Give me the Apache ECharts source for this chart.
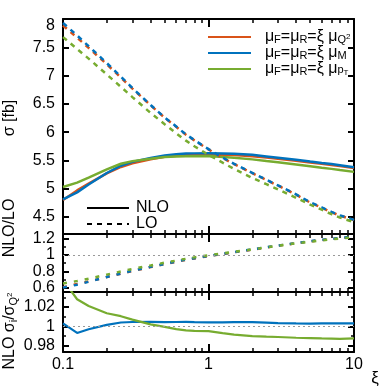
<!DOCTYPE html>
<html><head><meta charset="utf-8">
<script src="https://cdn.jsdelivr.net/npm/echarts@6/dist/echarts.min.js"></script>
<style>html,body{margin:0;padding:0;background:#fff}#c{width:390px;height:390px}</style>
</head><body><div id="c"></div>
<script>
// ---- data ----
const xi = [0.1,0.125,0.15,0.2,0.25,0.3,0.4,0.5,0.6,0.7,0.8,1,1.25,1.5,2,2.5,3,4,5,6,7,8,10];
// NLO cross sections [fb]
const nloQ2 = [4.80,4.97,5.09,5.27,5.385,5.45,5.52,5.565,5.585,5.595,5.60,5.605,5.60,5.595,5.575,5.55,5.53,5.495,5.465,5.44,5.42,5.40,5.365];
const nloM  = [4.814,4.936,5.075,5.278,5.407,5.475,5.545,5.589,5.610,5.621,5.625,5.629,5.624,5.619,5.599,5.571,5.548,5.511,5.480,5.456,5.436,5.416,5.381];
const nloPT = [5.030,5.109,5.197,5.341,5.442,5.488,5.531,5.562,5.569,5.572,5.574,5.577,5.561,5.547,5.519,5.491,5.469,5.430,5.398,5.372,5.351,5.330,5.298];
// LO cross sections [fb]
const loQ2 = [7.885,7.67,7.49,7.20,6.965,6.77,6.475,6.255,6.095,5.955,5.855,5.695,5.545,5.435,5.275,5.155,5.055,4.895,4.755,4.665,4.585,4.525,4.445];
const loM  = [7.93,7.71,7.52,7.22,6.98,6.78,6.48,6.26,6.10,5.96,5.86,5.70,5.55,5.44,5.28,5.16,5.06,4.90,4.76,4.67,4.59,4.53,4.45];
const loPT = [7.68,7.47,7.30,7.02,6.80,6.62,6.34,6.14,5.98,5.85,5.75,5.60,5.46,5.35,5.19,5.08,4.99,4.84,4.72,4.63,4.55,4.49,4.41];
// NLO/LO
const kQ2 = [0.609,0.648,0.680,0.732,0.773,0.805,0.852,0.889,0.916,0.940,0.957,0.985,1.010,1.031,1.063,1.090,1.110,1.140,1.163,1.178,1.191,1.201,1.216];
const kM  = [0.605,0.640,0.675,0.733,0.775,0.808,0.855,0.891,0.919,0.943,0.960,0.988,1.013,1.034,1.066,1.093,1.113,1.143,1.166,1.181,1.194,1.204,1.219];
const kPT = [0.655,0.684,0.712,0.762,0.800,0.830,0.872,0.906,0.931,0.953,0.970,0.996,1.018,1.037,1.066,1.090,1.110,1.140,1.160,1.175,1.188,1.198,1.212];
// NLO sigma_i / sigma_Q2
const relM  = [1.003,0.9932,0.997,1.0015,1.004,1.0045,1.0046,1.0043,1.0045,1.0047,1.0044,1.0042,1.0042,1.0043,1.0043,1.0038,1.0033,1.003,1.0028,1.003,1.003,1.003,1.003];
const relPT = [1.048,1.028,1.021,1.0135,1.0105,1.007,1.002,0.9995,0.9972,0.9958,0.9953,0.995,0.993,0.9915,0.990,0.9893,0.989,0.9882,0.9878,0.9875,0.9873,0.987,0.9875];
// ticks
const xMajor = [0.1, 1, 10];
const xMinor = [0.2,0.3,0.4,0.5,0.6,0.7,0.8,0.9,2,3,4,5,6,7,8,9];
const yTopMajor = [4.5,5,5.5,6,6.5,7,7.5,8];
const yMidMajor = [0.6,0.8,1,1.2];
const yMidMinor = [0.7,0.9,1.1];
const yBotMajor = [0.98,1,1.02];
const yBotMinor = [0.99,1.01,1.03];
const seriesNames = ['Q2','M','pT'];

// ---- style ----
const F = 'Liberation Sans';
const colors = {Q2:'#D95319', M:'#0072BD', pT:'#77AC30'};
const pair = a => a.map((v,i)=>[xi[i], v]);
const fmt = v => String(+(+v).toFixed(4));

const grids = [
  {left:63, right:36, top:19, height:215},
  {left:63, right:36, top:234, height:58},
  {left:63, right:36, top:292, height:60}
];
const yRanges = [[4.2,8],[0.552,1.252],[0.9735,1.0355]];
const yMaj = [yTopMajor, yMidMajor, yBotMajor];
const yMin = [[], yMidMinor, yBotMinor];

const xAxes = [], yAxes = [];
function xAx(g, pos, ticks, len, w, line, labels){
  return {type:'log', logBase:10, min:0.1, max:10, gridIndex:g, position:pos,
    axisLine:{show:line, lineStyle:{color:'#000', width:2}},
    axisTick:{show:true, inside:true, length:len, lineStyle:{color:'#000', width:w}, customValues:ticks},
    axisLabel: labels ? {show:true, customValues:labels, margin:5, color:'#000', fontSize:16, fontFamily:F, formatter:v=>fmt(v)} : {show:false},
    splitLine:{show:false}, minorTick:{show:false}};
}
function yAx(g, pos, ticks, len, w, line, labels){
  const r = yRanges[g];
  return {type:'value', min:r[0], max:r[1], gridIndex:g, position:pos,
    axisLine:{show:line, lineStyle:{color:'#000', width:2}},
    axisTick:{show:ticks.length>0, inside:true, length:len, lineStyle:{color:'#000', width:w}, customValues:ticks.length?ticks:undefined},
    axisLabel: labels ? {show:true, customValues:labels, margin:8, color:'#000', fontSize:16, fontFamily:F,
      formatter:v=> (g===0 && +v===8) ? '{d|8}' : fmt(v),
      rich:{d:{fontSize:16, fontFamily:F, color:'#000', padding:[13,0,0,0]}}} : {show:false},
    splitLine:{show:false}, minorTick:{show:false}};
}
for (let g=0; g<3; g++){
  xAxes.push(xAx(g,'bottom',xMajor,8,2,true, g===2?xMajor:null)); // index 4g
  xAxes.push(xAx(g,'bottom',xMinor,4,1.5,false,null));
  xAxes.push(xAx(g,'top',xMajor,8,2,true,null));
  xAxes.push(xAx(g,'top',xMinor,4,1.5,false,null));
  yAxes.push(yAx(g,'left',yMaj[g],6,2,true,yMaj[g])); // index 4g
  yAxes.push(yAx(g,'left',yMin[g],3,1.5,false,null));
  yAxes.push(yAx(g,'right',yMaj[g],6,2,true,null));
  yAxes.push(yAx(g,'right',yMin[g],3,1.5,false,null));
}

const series = [];
function line(name, g, data, dash, width){
  series.push({name, type:'line', xAxisIndex:4*g, yAxisIndex:4*g, data:pair(data),
    symbol:'none', showSymbol:false, smooth:false, clip:true, color:colors[name],
    lineStyle:{width:width||2.5, color:colors[name], type: dash || 'solid'}});
}
const refLine = {silent:true, symbol:['none','none'], label:{show:false},
  lineStyle:{color:'#999', type:[2,3], width:1}, data:[{yAxis:1}]};
// top panel
line('Q2',0,nloQ2); line('M',0,nloM); line('pT',0,nloPT);
line('Q2',0,loQ2,[5,5]); line('M',0,loM,[5,5]); line('pT',0,loPT,[5,5]);
// middle panel
line('Q2',1,kQ2,[4,7]); line('M',1,kM,[4,7]); line('pT',1,kPT,[4,7]);
series[series.length-3].markLine = refLine;
// bottom panel
line('M',2,relM,null,2.2); line('pT',2,relPT,null,2.2);
series[series.length-2].markLine = refLine;
// dummy series for NLO / LO style legend
series.push({name:'NLO', type:'line', xAxisIndex:0, yAxisIndex:0, data:[], symbol:'none', color:'#000', lineStyle:{color:'#000', width:2.5, type:'solid'}});
series.push({name:'LO', type:'line', xAxisIndex:0, yAxisIndex:0, data:[], symbol:'none', color:'#000', lineStyle:{color:'#000', width:2.5, type:[5,5]}});

const legendRich = {
  n:{fontSize:16, fontFamily:F, color:'#000', lineHeight:16, verticalAlign:'middle'},
  s:{fontSize:11, fontFamily:F, color:'#000', lineHeight:16, verticalAlign:'bottom'},
  s2:{fontSize:11, fontFamily:F, color:'#000', lineHeight:16, verticalAlign:'bottom', padding:[0,0,2,0]},
  p:{fontSize:8, fontFamily:F, color:'#000', lineHeight:16, verticalAlign:'middle'},
  t:{fontSize:8, fontFamily:F, color:'#000', lineHeight:16, verticalAlign:'bottom'}
};
const legendText = {
  Q2:'{n|  μ}{s|F}{n|=μ}{s|R}{n|=ξ μ}{s|Q}{p|2}',
  M:'{n|  μ}{s|F}{n|=μ}{s|R}{n|=ξ μ}{s|M}',
  pT:'{n|  μ}{s|F}{n|=μ}{s|R}{n|=ξ μ}{s2|p}{t|T}'
};

const option = {
  animation:false,
  backgroundColor:'#fff',
  grid: grids,
  xAxis: xAxes,
  yAxis: yAxes,
  series,
  legend:[
    {data:seriesNames, orient:'vertical', left:202, top:24, itemWidth:43, itemHeight:16, itemGap:0,
     itemStyle:{opacity:0}, formatter:n=>legendText[n], textStyle:{rich:legendRich, fontFamily:F}, selectedMode:false},
    {data:['NLO','LO'], orient:'vertical', left:81, top:195, itemWidth:42, itemHeight:16, itemGap:0,
     itemStyle:{opacity:0}, textStyle:{fontSize:16, fontFamily:F, color:'#000', padding:[0,0,0,2]}, selectedMode:false}
  ],
  graphic:[
    {type:'text', x:10, y:118, rotation:Math.PI/2, style:{text:'σ [fb]', fontSize:16, fontFamily:F, fill:'#000', align:'center', verticalAlign:'middle'}},
    {type:'text', x:10, y:228, rotation:Math.PI/2, style:{text:'NLO/LO', fontSize:16, fontFamily:F, fill:'#000', align:'center', verticalAlign:'middle'}},
    {type:'text', x:10, y:331, rotation:Math.PI/2, style:{text:'{n|NLO σ}{s|i}{n|/σ}{s|Q}{p|2}', align:'center', verticalAlign:'middle',
      rich:{n:{fontSize:16, fontFamily:F, fill:'#000', lineHeight:18, verticalAlign:'middle'},
            s:{fontSize:11, fontFamily:F, fill:'#000', lineHeight:18, verticalAlign:'bottom'},
            p:{fontSize:8, fontFamily:F, fill:'#000', lineHeight:18, verticalAlign:'middle'}}}},
    {type:'text', x:375, y:378, style:{text:'ξ', fontSize:17, fontFamily:F, fill:'#000', align:'center', verticalAlign:'middle'}}
  ]
};
const chart = echarts.init(document.getElementById('c'), null, {renderer:'canvas'});
chart.setOption(option);
</script></body></html>
